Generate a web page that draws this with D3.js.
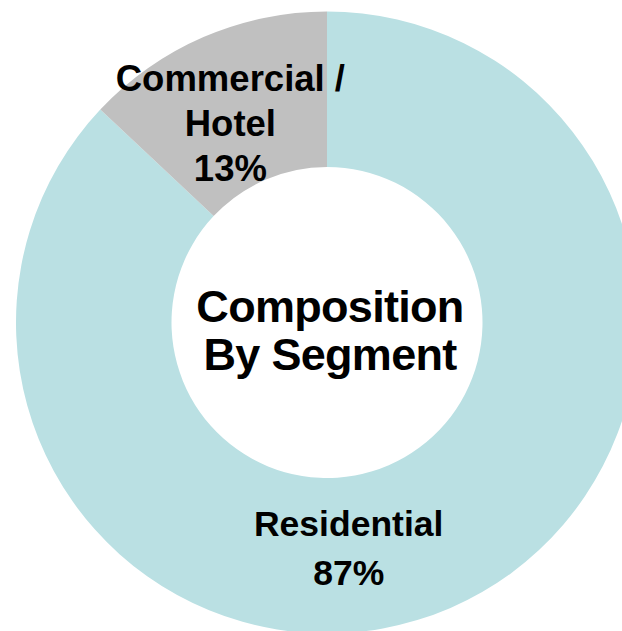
<!DOCTYPE html>
<html lang="en">
<head>
<meta charset="UTF-8">
<title>Composition By Segment</title>
<script src="https://cdn.jsdelivr.net/npm/d3@7"></script>
<style>
  html, body { margin: 0; padding: 0; background: #fff; }
  text { font-family: "Liberation Sans", Arial, sans-serif; font-weight: bold; fill: #000; }
</style>
</head>
<body>
<svg id="chart" width="622" height="631"></svg>
<script>
// data
var segments = ["Residential", "Commercial / Hotel"];
var shares = [87, 13];
var labelLines = [["Residential", "87%"], ["Commercial /", "Hotel", "13%"]];
var colors = ["#bae0e3", "#c0c0c0"];
var title = ["Composition", "By Segment"];

var svg = d3.select("#chart");
var cx = 327, cy = 322.5;
var outerR = 311, innerR = 155.5;

var g = svg.append("g").attr("transform", "translate(" + cx + "," + cy + ")");

var pie = d3.pie().sort(null).value(function(d) { return d; });
var arc = d3.arc().innerRadius(innerR).outerRadius(outerR);
var arcs = pie(shares);

g.selectAll("path").data(arcs).enter().append("path")
    .attr("d", arc)
    .attr("fill", function(d, i) { return colors[i]; });

// label placement (angle in degrees clockwise from top, radius, font size, line height)
var labelPos = [
    { angle: 174.5, r: 226, size: 35.5, lh: 49 },
    { angle: -25.8, r: 222, size: 36.5, lh: 45 }
];

arcs.forEach(function(d, i) {
    var p = labelPos[i];
    var a = p.angle * Math.PI / 180;
    var x = p.r * Math.sin(a), y = -p.r * Math.cos(a);
    var lines = labelLines[i];
    var t = g.append("text")
        .attr("text-anchor", "middle")
        .attr("font-size", p.size + "px");
    lines.forEach(function(s, j) {
        t.append("tspan")
            .attr("x", x)
            .attr("y", y + (j - (lines.length - 1) / 2) * p.lh + p.size * 0.36)
            .text(s);
    });
});

// centre title
var tt = g.append("text")
    .attr("text-anchor", "middle")
    .attr("font-size", "45px")
    .attr("letter-spacing", "-0.7px");
title.forEach(function(s, j) {
    tt.append("tspan")
        .attr("x", 3)
        .attr("y", -0.5 + j * 48)
        .text(s);
});
</script>
</body>
</html>
